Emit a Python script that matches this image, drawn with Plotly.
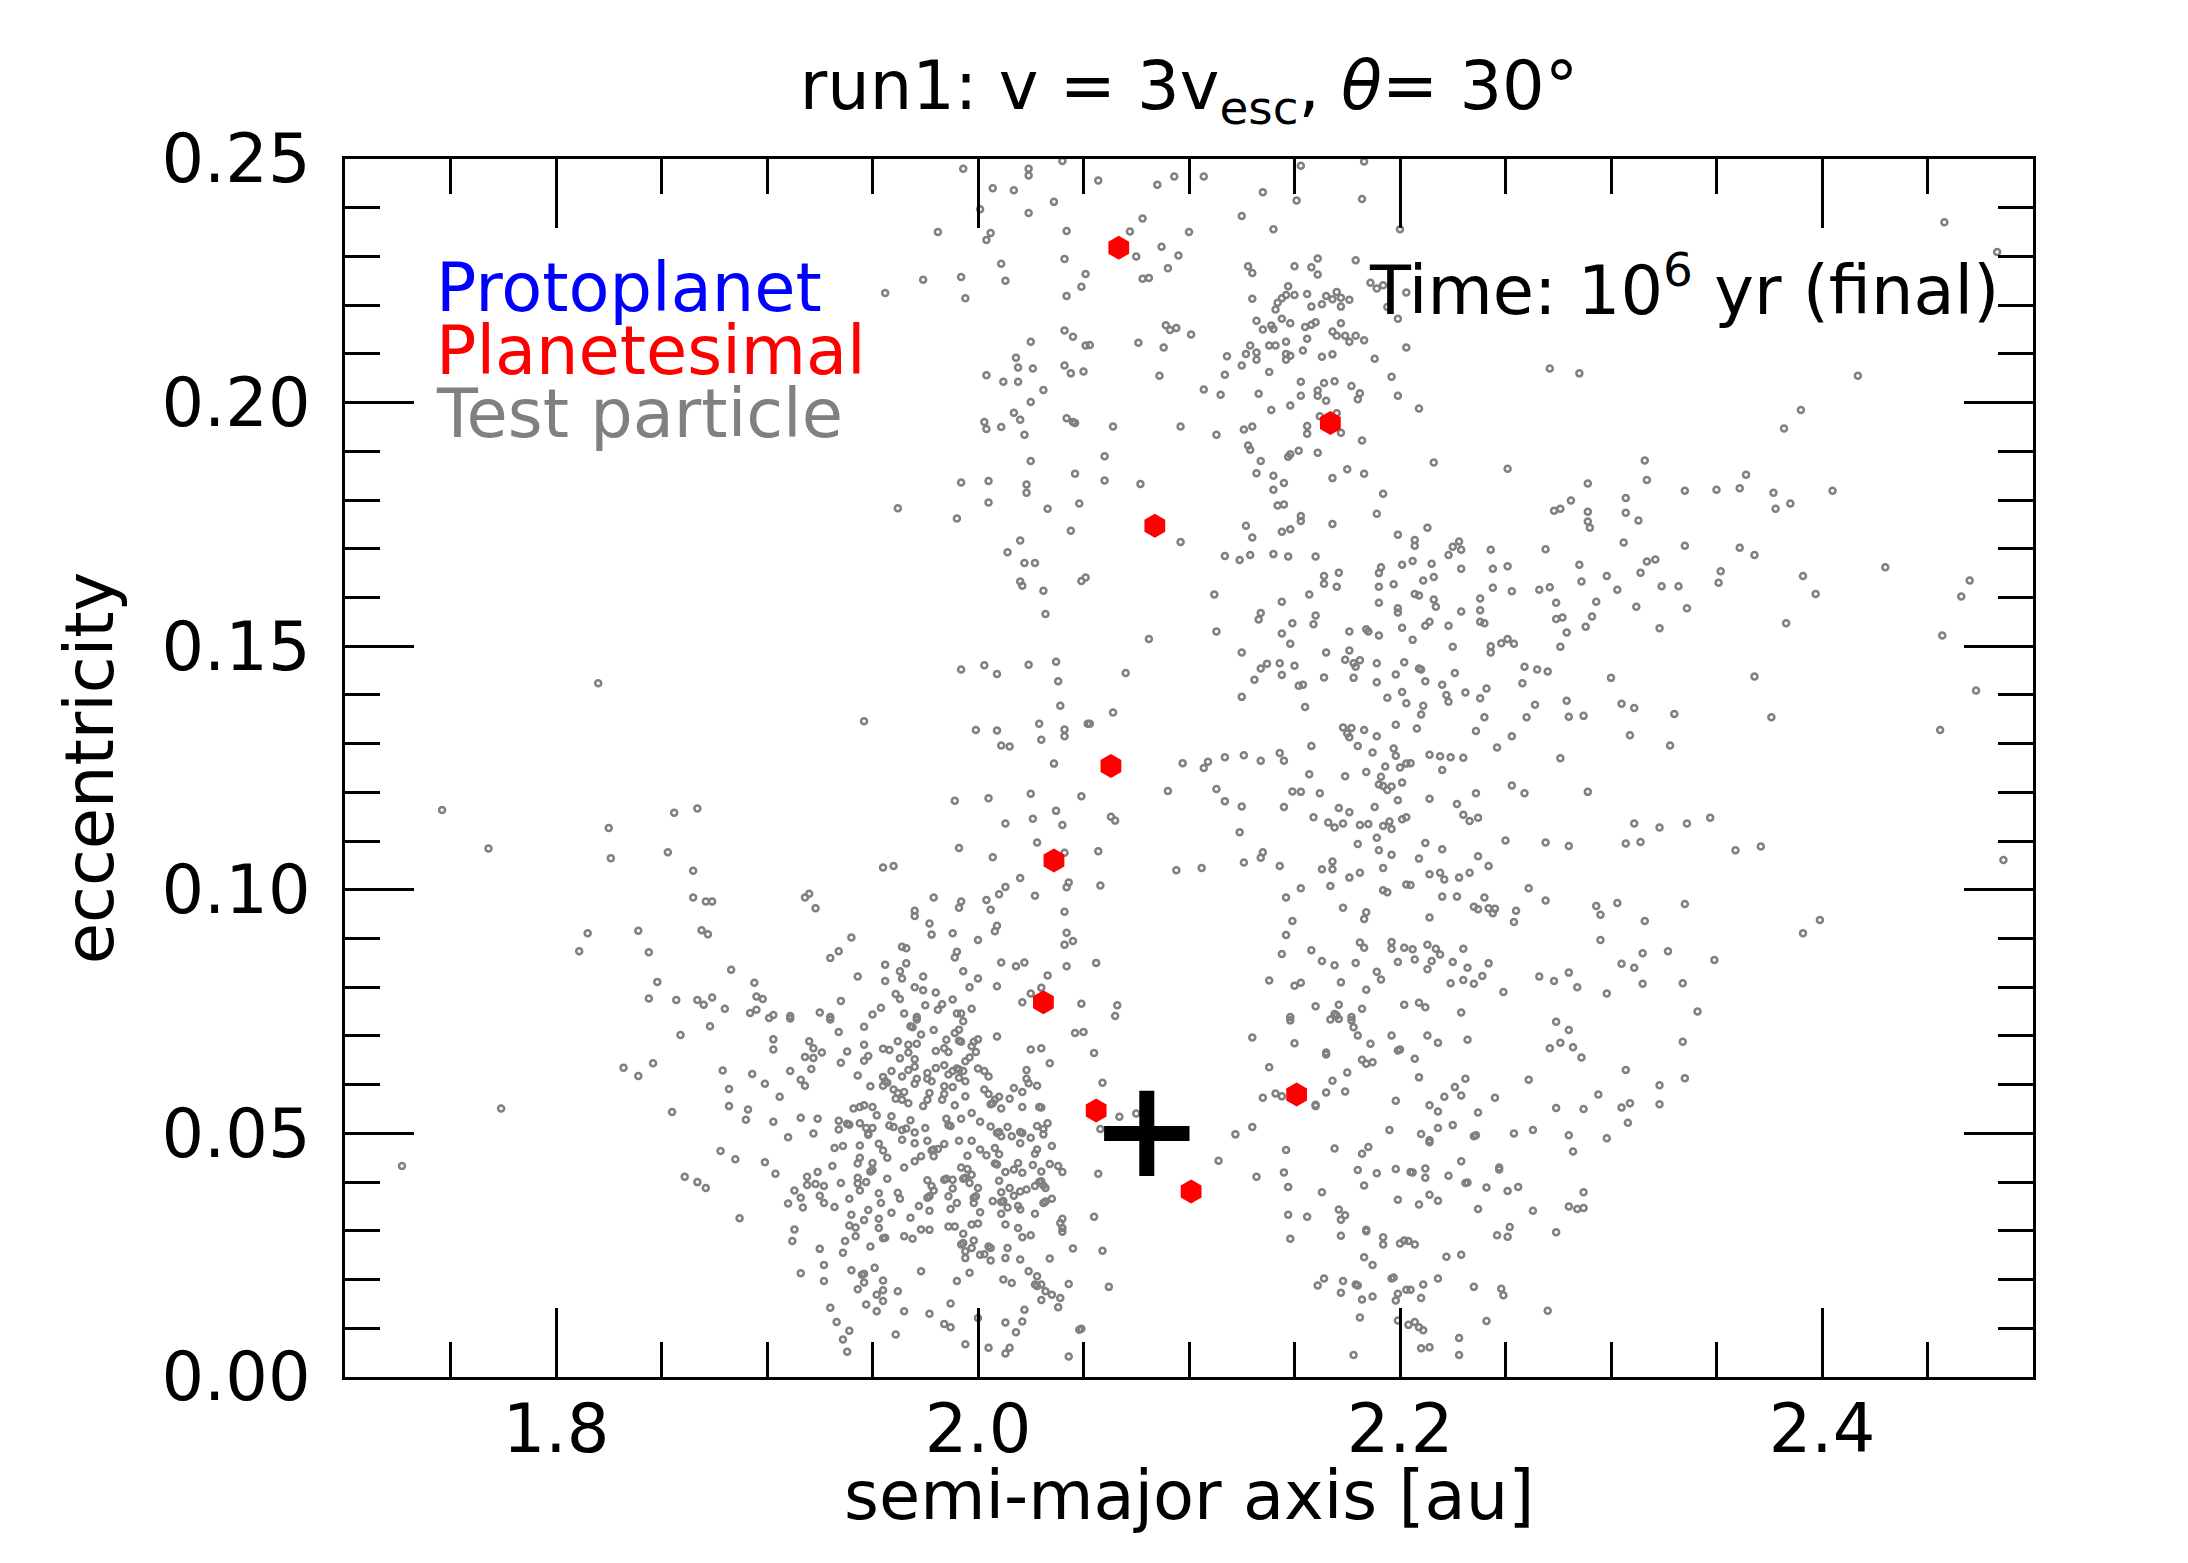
import plotly.graph_objects as go

# ---------------- data (semi-major axis [au], eccentricity) ----------------
# test particles, grouped by region of the plot
tp_upper_left = [
    (1.993,0.248),(2.024,0.248),(2.024,0.2466),(2.007,0.244),(2.017,0.2436),(2.036,0.2412),(2.001,0.2397),
    (2.024,0.2389),(1.981,0.235),(2.006,0.2348),(2.004,0.2334),(2.042,0.2352),(2.041,0.2295),(2.011,0.2285),
    (2.013,0.225),(1.992,0.2258),(1.974,0.2252),(1.956,0.2225),(1.994,0.2214),(2.051,0.2264),(2.049,0.2238),
    (2.042,0.2219),(2.041,0.2148),(2.045,0.2135),(2.051,0.2117),(2.025,0.2125),(2.018,0.2092),(2.019,0.2072),
    (2.026,0.207),(2.041,0.2076),(2.044,0.206),(2.05,0.2064),(2.004,0.2056),(2.012,0.2043),(2.019,0.2043),
    (2.031,0.2026),(2.025,0.2001),(2.017,0.1979),(2.020,0.1965),(2.003,0.196),(2.004,0.1946),(2.011,0.195),
    (2.022,0.1934),(2.042,0.1968),(2.045,0.196),(2.046,0.1958),(2.025,0.188),(2.046,0.1854),(1.992,0.1836),
    (2.005,0.1839),(2.023,0.1832),(2.023,0.1815),(2.005,0.1795),(1.962,0.1783),(1.990,0.1762),(2.033,0.1782),
    (2.048,0.1793),(2.044,0.1737),(2.020,0.1717),(2.014,0.1693),(2.022,0.1671),(2.027,0.1671),(2.020,0.1633),
    (2.021,0.1624),(2.031,0.1614),(2.032,0.1566),(2.049,0.1634),(2.051,0.1641),(2.040,0.2496),
]
tp_upper_mid = [
    (2.057,0.2456),(2.085,0.2447),(2.093,0.2464),(2.107,0.2464),(2.135,0.2432),(2.153,0.2486),(2.151,0.2415),
    (2.183,0.2495),(2.182,0.2418),(2.200,0.2356),(2.078,0.2378),(2.072,0.2351),(2.100,0.235),(2.125,0.2383),
    (2.140,0.2356),(2.087,0.232),(2.075,0.2300),(2.095,0.2302),(2.090,0.2276),(2.078,0.2254),(2.081,0.2256),
    (2.128,0.2280),(2.130,0.2266),(2.150,0.2280),(2.161,0.2296),(2.158,0.2278),(2.161,0.2263),(2.179,0.2292),
    (2.186,0.2246),(2.189,0.2234),(2.192,0.2241),(2.194,0.2196),(2.199,0.2172),(2.203,0.2226),(2.130,0.2213),
    (2.147,0.2239),(2.142,0.2205),(2.144,0.2214),(2.146,0.2221),(2.150,0.2221),(2.141,0.2191),(2.156,0.2223),
    (2.165,0.2219),(2.170,0.2227),(2.168,0.2212),(2.172,0.2215),(2.176,0.2211),(2.163,0.2202),(2.158,0.2197),
    (2.172,0.2197),(2.132,0.2168),(2.144,0.2172),(2.148,0.2163),(2.139,0.2158),(2.140,0.2151),(2.135,0.215),
    (2.155,0.2155),(2.158,0.216),(2.160,0.2165),(2.172,0.2163),(2.168,0.2146),(2.170,0.2137),(2.174,0.2137),
    (2.176,0.2125),(2.179,0.2137),(2.183,0.2128),(2.156,0.2131),(2.089,0.2159),(2.091,0.2149),(2.094,0.2153),
    (2.101,0.2140),(2.076,0.2123),(2.088,0.2113),(2.053,0.2118),(2.129,0.2117),(2.138,0.2117),(2.141,0.2117),
    (2.146,0.2125),(2.118,0.2095),(2.127,0.2100),(2.132,0.2103),(2.132,0.2088),(2.125,0.2076),(2.146,0.2100),
    (2.148,0.2096),(2.146,0.2088),(2.154,0.2107),(2.163,0.2094),(2.168,0.2099),(2.188,0.2090),(2.203,0.2113),
    (2.086,0.2055),(2.117,0.2057),(2.138,0.2063),(2.107,0.2027),(2.115,0.2016),(2.133,0.2018),(2.153,0.2043),
    (2.164,0.2040),(2.169,0.2044),(2.153,0.2014),(2.161,0.2025),(2.161,0.2014),(2.165,0.2004),(2.177,0.2034),
    (2.181,0.2019),(2.180,0.2007),(2.196,0.2053),(2.199,0.2014),(2.139,0.1985),(2.148,0.1994),(2.162,0.1972),
    (2.170,0.1978),(2.156,0.1952),(2.156,0.1936),(2.172,0.1938),(2.182,0.1922),(2.064,0.1951),(2.096,0.1951),
    (2.113,0.1934),(2.126,0.1945),(2.130,0.1951),(2.060,0.1890),(2.128,0.1912),(2.129,0.1903),(2.134,0.1880),
    (2.132,0.1855),(2.147,0.1889),(2.148,0.1894),(2.152,0.1901),(2.161,0.1897),(2.060,0.1840),(2.077,0.1833),
    (2.140,0.1850),(2.145,0.1835),(2.140,0.1821),(2.168,0.1845),(2.175,0.1863),(2.183,0.1854),(2.192,0.1813),
    (2.142,0.1789),(2.145,0.1791),(2.153,0.1767),(2.153,0.1757),(2.189,0.1772),(2.168,0.1751),(2.199,0.1729),
    (2.127,0.1747),(2.130,0.1723),(2.096,0.1714),(2.144,0.1735),(2.148,0.1740),(2.117,0.1685),(2.124,0.1677),
    (2.129,0.1687),(2.140,0.1689),(2.147,0.1684),(2.160,0.1684),(2.164,0.1644),(2.164,0.1628),(2.170,0.1622),
    (2.171,0.1651),(2.191,0.1662),(2.190,0.1650),(2.190,0.1622),(2.197,0.1627),(2.201,0.1667),(2.190,0.1589),
    (2.199,0.1578),(2.199,0.1569),(2.201,0.1538),(2.112,0.1606),(2.144,0.1591),(2.157,0.1606),(2.134,0.1568),
    (2.133,0.1555),(2.160,0.1563),(2.159,0.1545),(2.149,0.1547),(2.113,0.1530),(2.144,0.1526),(2.148,0.1505),
    (2.081,0.1515),(2.176,0.1530),(2.184,0.1535),(2.185,0.1530),(2.190,0.1522),
]
tp_upper_right = [
    (2.458,0.237),(2.483,0.2309),(2.271,0.2070),(2.285,0.2060),(2.417,0.2055),(2.209,0.1988),(2.390,0.1985),
    (2.382,0.1947),(2.216,0.1877),(2.251,0.1864),(2.316,0.1881),(2.317,0.1841),(2.364,0.1852),(2.289,0.1834),
    (2.335,0.1819),(2.350,0.1821),(2.361,0.1824),(2.377,0.1815),(2.405,0.1819),(2.307,0.1804),(2.281,0.1799),
    (2.273,0.1778),(2.276,0.1782),(2.289,0.1776),(2.307,0.1774),(2.313,0.1758),(2.289,0.1756),(2.290,0.1743),
    (2.378,0.1782),(2.385,0.1793),(2.213,0.1743),(2.207,0.1718),(2.207,0.1706),(2.225,0.1704),(2.228,0.1715),
    (2.229,0.1698),(2.223,0.1687),(2.243,0.1698),(2.269,0.1699),(2.306,0.1713),(2.335,0.1706),(2.361,0.1702),
    (2.368,0.1687),(2.206,0.1675),(2.215,0.1669),(2.229,0.1659),(2.244,0.1659),(2.251,0.1664),(2.285,0.1667),
    (2.317,0.1674),(2.321,0.1678),(2.314,0.1651),(2.352,0.1654),(2.430,0.1662),(2.211,0.1635),(2.216,0.1642),
    (2.286,0.1633),(2.298,0.1644),(2.351,0.1630),(2.391,0.1644),(2.207,0.1607),(2.209,0.1604),(2.216,0.1596),
    (2.217,0.1581),(2.244,0.1620),(2.253,0.1613),(2.266,0.1616),(2.271,0.1621),(2.303,0.1616),(2.324,0.1623),
    (2.332,0.1623),(2.397,0.1607),(2.470,0.1635),(2.466,0.1602),(2.238,0.1598),(2.238,0.1574),(2.229,0.1571),
    (2.274,0.1589),(2.293,0.1591),(2.312,0.1581),(2.336,0.1578),(2.238,0.1550),(2.240,0.1547),(2.223,0.1542),
    (2.212,0.1542),(2.214,0.1550),(2.274,0.1556),(2.277,0.1559),(2.291,0.1561),(2.288,0.1540),(2.279,0.1528),
    (2.323,0.1537),(2.383,0.1547),(2.457,0.1522),(2.206,0.1513),(2.251,0.1515),(2.254,0.1505),(2.248,0.1506),
    (2.243,0.1500),(2.225,0.1499),(2.276,0.1499),
]
tp_middle_left = [
    (1.992,0.1452),(2.003,0.1461),(2.009,0.1443),(2.024,0.1462),(2.037,0.1468),(2.038,0.1428),(2.039,0.1378),
    (1.946,0.1346),(1.999,0.1328),(2.009,0.1327),(2.029,0.1341),(2.041,0.1329),(2.041,0.1315),(2.030,0.1308),
    (2.052,0.1341),(2.011,0.1296),(2.015,0.1294),(2.036,0.1259),(1.989,0.1183),(2.005,0.1188),(2.025,0.1197),
    (2.049,0.1192),(2.037,0.1162),(2.013,0.1136),(2.026,0.1146),(2.040,0.1133),(1.991,0.1086),(2.007,0.1067),
    (2.028,0.1097),(2.041,0.1076),(1.955,0.1046),(1.960,0.1049),(2.020,0.1024),(2.043,0.1015),(2.042,0.1005),
    (1.918,0.0984),(1.920,0.0992),(1.923,0.0962),(1.979,0.0984),(1.991,0.0963),(1.992,0.0976),(2.004,0.0979),
    (2.006,0.0959),(2.010,0.0991),(2.013,0.1006),(2.027,0.0988),(2.041,0.0955),(1.970,0.0957),(1.970,0.0946),
    (1.977,0.0931),(1.978,0.0908),(1.988,0.0911),(2.000,0.0897),(2.008,0.0915),(2.009,0.0926),(2.042,0.0912),
    (2.041,0.0887),(2.045,0.0895),(1.940,0.0902),(1.930,0.0860),(1.934,0.0874),(1.964,0.0883),(1.966,0.0880),
    (1.990,0.0873),(1.989,0.0861),(1.956,0.0846),(1.966,0.0849),(1.963,0.0833),(1.964,0.0818),(1.943,0.0822),
    (1.956,0.0813),(1.974,0.0822),(1.993,0.0833),(2.000,0.0818),(2.011,0.0851),(2.018,0.0843),(2.022,0.0851),
    (2.042,0.0843),(2.033,0.0824),(1.996,0.0800),(2.009,0.0802),(2.030,0.0799),(2.025,0.0787),(2.021,0.0769),
    (2.049,0.0766),(1.970,0.0800),(1.974,0.0794),(1.980,0.0789),(1.961,0.0786),(1.963,0.0776),(1.935,0.0772),
    (1.988,0.0775),(1.983,0.0765),(1.975,0.0763),(1.954,0.0758),(1.997,0.0756),(1.981,0.0754),(1.925,0.0748),
    (1.950,0.0744),(1.965,0.0746),(1.990,0.0746),(1.992,0.0746),(1.903,0.0743),(1.911,0.0741),(1.930,0.0739),
    (1.971,0.0739),
]
tp_middle_mid = [
    (2.125,0.1487),(2.165,0.1487),(2.176,0.1491),(2.070,0.1445),(2.064,0.1364),(2.053,0.1341),(2.134,0.1454),
    (2.137,0.1464),(2.143,0.1465),(2.150,0.1460),(2.144,0.1441),(2.131,0.1431),(2.152,0.1419),(2.154,0.1421),
    (2.164,0.1436),(2.174,0.1472),(2.178,0.1465),(2.181,0.1471),(2.179,0.1458),(2.178,0.1435),(2.189,0.1465),
    (2.189,0.1426),(2.198,0.1442),(2.202,0.1467),(2.201,0.1406),(2.203,0.1383),(2.194,0.1394),(2.125,0.1396),
    (2.155,0.1375),(2.173,0.1333),(2.177,0.1332),(2.175,0.1321),(2.176,0.1313),(2.183,0.1328),(2.189,0.1315),
    (2.198,0.1339),(2.158,0.1295),(2.180,0.1295),(2.187,0.1282),(2.197,0.1290),(2.198,0.1275),(2.097,0.1260),
    (2.109,0.1263),(2.107,0.1250),(2.117,0.1272),(2.126,0.1276),(2.134,0.1265),(2.143,0.1281),(2.145,0.1265),
    (2.157,0.1237),(2.174,0.1233),(2.184,0.1242),(2.193,0.1253),(2.200,0.1251),(2.203,0.1259),(2.191,0.1232),
    (2.192,0.1213),(2.194,0.1205),(2.196,0.1212),(2.190,0.1216),(2.201,0.1220),(2.199,0.1184),(2.090,0.1203),
    (2.113,0.1207),(2.117,0.1182),(2.125,0.1171),(2.149,0.1202),(2.153,0.1201),(2.162,0.1198),(2.145,0.1170),
    (2.159,0.1149),(2.171,0.1168),(2.176,0.1159),(2.188,0.1170),(2.063,0.1150),(2.065,0.1142),(2.166,0.1138),
    (2.169,0.1128),(2.173,0.1136),(2.181,0.1133),(2.185,0.1135),(2.192,0.1131),(2.195,0.1140),(2.196,0.1125),
    (2.201,0.1145),(2.203,0.1149),(2.124,0.1118),(2.189,0.1107),(2.180,0.1094),(2.190,0.1081),(2.196,0.1072),
    (2.057,0.1079),(2.094,0.1040),(2.106,0.1045),(2.126,0.1056),(2.134,0.1066),(2.135,0.1077),(2.143,0.1049),
    (2.163,0.1042),(2.168,0.1058),(2.168,0.1042),(2.176,0.1025),(2.181,0.1035),(2.192,0.1045),(2.058,0.1009),
    (2.153,0.1003),(2.167,0.1008),(2.192,0.0999),(2.194,0.0995),(2.203,0.1011),(2.146,0.0984),(2.173,0.0963),
    (2.184,0.0954),(2.183,0.0940),(2.149,0.0936),(2.146,0.0907),(2.144,0.0868),(2.158,0.0876),(2.163,0.0854),
    (2.169,0.0845),(2.179,0.0850),(2.181,0.0892),(2.183,0.0881),(2.196,0.0893),(2.196,0.0879),(2.202,0.0881),
    (2.199,0.0852),(2.189,0.0832),(2.191,0.0816),(2.184,0.0795),(2.172,0.0810),(2.150,0.0803),(2.153,0.0809),
    (2.138,0.0814),(2.056,0.0850),(2.066,0.0763),(2.065,0.0741),(2.160,0.0761),(2.171,0.0764),(2.182,0.0756),
    (2.202,0.0764),(2.148,0.0739),(2.169,0.0745),(2.170,0.0742),(2.177,0.0739),
]
tp_middle_right = [
    (2.243,0.1487),(2.209,0.1454),(2.210,0.1452),(2.226,0.1445),(2.212,0.1428),(2.220,0.1421),(2.259,0.1458),
    (2.265,0.1452),(2.270,0.1448),(2.258,0.1424),(2.300,0.1435),(2.222,0.1400),(2.223,0.1386),(2.231,0.1405),
    (2.241,0.1413),(2.238,0.1393),(2.211,0.1378),(2.210,0.1360),(2.264,0.1380),(2.279,0.1388),(2.305,0.1382),
    (2.311,0.1373),(2.330,0.1361),(2.240,0.1354),(2.260,0.1354),(2.280,0.1355),(2.287,0.1357),(2.208,0.1331),
    (2.236,0.1326),(2.253,0.1315),(2.246,0.1292),(2.309,0.1317),(2.328,0.1296),(2.214,0.1277),(2.219,0.1274),
    (2.224,0.1272),(2.230,0.1271),(2.205,0.1260),(2.220,0.1246),(2.276,0.1270),(2.253,0.1214),(2.259,0.1198),
    (2.236,0.1198),(2.289,0.1201),(2.214,0.1187),(2.227,0.1176),(2.230,0.1154),(2.233,0.1141),(2.237,0.1148),
    (2.311,0.1136),(2.323,0.1128),(2.336,0.1136),(2.347,0.1148),(2.307,0.1095),(2.314,0.1098),(2.212,0.1096),
    (2.220,0.1083),(2.250,0.1101),(2.269,0.1097),(2.280,0.1090),(2.209,0.1064),(2.237,0.1069),(2.242,0.1049),
    (2.214,0.1032),(2.219,0.1035),(2.221,0.1021),(2.228,0.1025),(2.233,0.1035),(2.205,0.1010),(2.220,0.0986),
    (2.227,0.0986),(2.240,0.0984),(2.235,0.0965),(2.237,0.0960),(2.242,0.0962),(2.245,0.0961),(2.244,0.0952),
    (2.261,0.1003),(2.269,0.0978),(2.255,0.0957),(2.254,0.0934),(2.214,0.0943),(2.293,0.0967),(2.303,0.0973),
    (2.295,0.0949),(2.316,0.0936),(2.335,0.0971),(2.295,0.0897),(2.315,0.0870),(2.327,0.0874),(2.349,0.0856),
    (2.305,0.0848),(2.311,0.0840),(2.315,0.0807),(2.334,0.0808),(2.341,0.0750),(2.206,0.0878),(2.207,0.0857),
    (2.213,0.0887),(2.217,0.0879),(2.219,0.0867),(2.215,0.0854),(2.213,0.0837),(2.230,0.0879),(2.225,0.0852),
    (2.232,0.0840),(2.242,0.0849),(2.224,0.0808),(2.230,0.0815),(2.235,0.0807),(2.239,0.0823),(2.249,0.0790),
    (2.266,0.0822),(2.273,0.0813),(2.280,0.0830),(2.284,0.0800),(2.298,0.0787),(2.209,0.0768),(2.212,0.0759),
    (2.229,0.0748),
]
tp_lower_left = [
    (1.911,0.0736),(1.930,0.0734),(1.946,0.0719),(1.934,0.0708),(1.968,0.0720),(1.969,0.0718),(1.971,0.0734),
    (1.979,0.0712),(1.993,0.0730),(1.991,0.0713),(1.989,0.0706),(2.009,0.0699),(2.046,0.0706),(2.050,0.0708),
    (1.903,0.0693),(1.903,0.0672),(1.920,0.0689),(1.922,0.0675),(1.926,0.0666),(1.918,0.0657),(1.922,0.0655),
    (1.938,0.0668),(1.946,0.0682),(1.948,0.0659),(1.946,0.0649),(1.935,0.0645),(1.955,0.0674),(1.958,0.0671),
    (1.962,0.0689),(1.967,0.0682),(1.971,0.0684),(1.973,0.0703),(1.967,0.0666),(1.985,0.0692),(1.984,0.0675),
    (1.986,0.0667),(1.980,0.0669),(1.991,0.0690),(1.992,0.0688),(1.998,0.0688),(2.000,0.0693),(1.997,0.0679),
    (1.999,0.0667),(1.996,0.0656),(1.994,0.0648),(2.025,0.0672),(2.030,0.0675),(2.034,0.0644),(1.963,0.0654),
    (1.970,0.0652),(1.911,0.0628),(1.921,0.0632),(1.916,0.0610),(1.918,0.0598),(1.906,0.0575),(1.943,0.0619),
    (1.949,0.0597),(1.955,0.0616),(1.955,0.0598),(1.959,0.0628),(1.957,0.0604),(1.956,0.0607),(1.960,0.0590),
    (1.962,0.0583),(1.965,0.0585),(1.961,0.0571),(1.964,0.0569),(1.967,0.0562),(1.964,0.0617),(1.967,0.0630),
    (1.970,0.0637),(1.970,0.0602),(1.971,0.0612),(1.976,0.0624),(1.976,0.0612),(1.978,0.0607),(1.980,0.0634),
    (1.984,0.0640),(1.988,0.0628),(1.991,0.0631),(1.990,0.0633),(1.993,0.0628),(1.991,0.0614),(1.994,0.0607),
    (1.986,0.0621),(2.000,0.0633),(2.003,0.0628),(2.005,0.0617),(2.003,0.0590),(2.005,0.0581),(1.984,0.0597),
    (1.988,0.0595),(1.984,0.0581),(1.983,0.0569),(1.977,0.0583),(1.976,0.0569),(1.974,0.0556),(1.989,0.0558),
    (1.994,0.0576),(2.010,0.0575),(2.008,0.0569),(2.006,0.0560),(2.007,0.0562),(2.015,0.0571),(2.017,0.0593),
    (2.021,0.0585),(2.023,0.0630),(2.023,0.0612),(2.024,0.0603),(2.028,0.0598),(2.011,0.0551),(2.021,0.0554),
    (2.029,0.0554),(2.030,0.0553),(1.941,0.0551),(1.944,0.0554),(1.946,0.0558),(1.950,0.0554),(1.952,0.0537),
    (1.916,0.0532),(1.924,0.0530),(1.903,0.0524),(1.910,0.0492),(1.922,0.0500),(1.934,0.0526),(1.934,0.0508),
    (1.939,0.0518),(1.938,0.0520),(1.944,0.0521),(1.947,0.0511),(1.948,0.0497),(1.948,0.0500),(1.950,0.0511),
    (1.959,0.0535),(1.958,0.0516),(1.960,0.0513),(1.964,0.0507),(1.966,0.0510),(1.968,0.0527),(1.970,0.0502),
    (1.964,0.0487),(1.970,0.0480),(1.975,0.0511),(1.985,0.0530),(1.986,0.0517),(1.987,0.0515),(1.992,0.0530),
    (1.997,0.0542),(2.001,0.0524),(2.006,0.0514),(2.009,0.0501),(2.010,0.0503),(2.014,0.0513),(2.016,0.0494),
    (2.021,0.0501),(2.020,0.0503),(2.020,0.0480),(2.025,0.0491),(2.028,0.0515),(2.031,0.0509),(2.033,0.0521),
    (2.031,0.0498),(2.011,0.0494),(1.991,0.0485),(1.997,0.0485),(1.976,0.0485),(1.978,0.0465),(1.979,0.0467),
    (1.981,0.0468),(1.984,0.0478),(1.979,0.0453),(1.973,0.0453),(1.970,0.0443),(1.965,0.0430),(1.932,0.0470),
    (1.936,0.0474),(1.944,0.0475),(1.953,0.0479),(1.955,0.0465),(1.957,0.0450),(1.931,0.0433),(1.944,0.0450),
    (1.943,0.0438),(1.950,0.0439),(1.949,0.0422),(1.950,0.0425),(1.904,0.0417),(1.919,0.0411),(1.924,0.0421),
    (1.919,0.0394),(1.923,0.0396),(1.927,0.0392),(1.913,0.0383),(1.925,0.0372),(1.916,0.0368),(1.910,0.0356),
    (1.917,0.0348),(1.927,0.0357),(1.932,0.0349),(1.935,0.0398),(1.943,0.0409),(1.943,0.0397),(1.947,0.0400),
    (1.944,0.0383),(1.939,0.0366),(1.957,0.0407),(1.953,0.0377),(1.954,0.0357),(1.962,0.0378),(1.963,0.0366),
    (1.948,0.0343),(1.959,0.0337),(1.972,0.0351),(1.976,0.0404),(1.978,0.0392),(1.979,0.0383),(1.976,0.0368),
    (1.977,0.0371),(1.977,0.0341),(1.984,0.0405),(1.985,0.0407),(1.988,0.0405),(1.988,0.0387),(1.986,0.0371),
    (1.990,0.0357),(1.987,0.0345),(1.992,0.0430),(1.995,0.0427),(1.997,0.0415),(1.993,0.0407),(1.994,0.0409),
    (1.996,0.0398),(2.000,0.0388),(1.998,0.0368),(1.999,0.0371),(1.998,0.0357),(2.001,0.0338),(1.995,0.0454),
    (2.001,0.0467),(2.004,0.0455),(2.008,0.0470),(2.010,0.0457),(2.008,0.0438),(2.009,0.0436),(2.013,0.0421),
    (2.017,0.0426),(2.019,0.0439),(2.021,0.0419),(2.026,0.0435),(2.028,0.0467),(2.027,0.0458),(2.030,0.0422),
    (2.034,0.0437),(2.035,0.0474),(2.038,0.0433),(2.040,0.0421),(2.010,0.0403),(2.011,0.0379),(2.015,0.0388),
    (2.017,0.0372),(2.020,0.0381),(2.023,0.0385),(2.027,0.0392),(2.029,0.0400),(2.030,0.0402),(2.031,0.0393),
    (2.032,0.0388),(2.035,0.0366),(2.031,0.0357),(2.032,0.0360),(2.007,0.0361),(2.011,0.0359),(2.012,0.0361),
    (2.014,0.0348),(2.019,0.0351),(2.020,0.0344),(2.011,0.0335),(2.027,0.0335),(1.940,0.0333),(1.946,0.0322),
    (1.953,0.0325),(1.953,0.0306),(1.955,0.0285),(1.956,0.0286),(1.939,0.0311),(1.942,0.0307),(1.942,0.0289),
    (1.937,0.0279),(1.936,0.0255),(1.913,0.0303),(1.912,0.0279),(1.925,0.0263),(1.949,0.0268),(1.968,0.0327),
    (1.965,0.0289),(1.969,0.0284),(1.973,0.0303),(1.977,0.0302),(1.986,0.0309),(1.989,0.0309),(1.997,0.0313),
    (2.000,0.0315),(1.993,0.0294),(1.992,0.0272),(1.993,0.0275),(1.994,0.0258),(1.997,0.0265),(1.998,0.0280),
    (1.994,0.0244),(2.001,0.0251),(2.003,0.0252),(2.006,0.0265),(2.005,0.0268),(2.006,0.0239),(2.013,0.0313),
    (2.019,0.0306),(2.021,0.0287),(2.025,0.0291),(2.014,0.0265),(2.013,0.0244),(2.020,0.0241),(2.034,0.0243),
    (2.039,0.0316),(2.040,0.0325),(2.040,0.0306),(2.040,0.0298),(2.045,0.0264),(1.927,0.0230),(1.916,0.0213),
    (1.927,0.0197),(1.940,0.0219),(1.945,0.0210),(1.946,0.0212),(1.946,0.0194),(1.951,0.0224),(1.955,0.0198),
    (1.955,0.0178),(1.952,0.0169),(1.955,0.0156),(1.943,0.0180),(1.962,0.0176),(1.973,0.0217),(1.990,0.0197),
    (1.996,0.0214),(2.012,0.0200),(2.016,0.0193),(2.024,0.0217),(2.028,0.0207),(2.027,0.0190),(2.028,0.0187),
    (2.030,0.0190),(2.032,0.0176),(2.035,0.0169),(2.039,0.0162),(2.030,0.0158),(2.038,0.0143),(2.043,0.0191),
    (1.930,0.0142),(1.947,0.0149),(1.952,0.0135),(1.965,0.0135),(1.977,0.0130),(1.987,0.0151),(1.933,0.0113),
    (1.939,0.0095),(1.936,0.0077),(1.938,0.0052),(1.961,0.0087),(1.984,0.0109),(1.987,0.0102),(2.000,0.0121),
    (2.013,0.0112),(2.022,0.0138),(2.021,0.0114),(2.018,0.0092),(1.994,0.0067),(2.005,0.0060),(2.013,0.0048),
    (2.015,0.0060),(2.043,0.0042),(2.048,0.0097),(2.049,0.0099),
]
tp_lower_mid = [
    (2.148,0.0732),(2.167,0.0734),(2.171,0.0735),(2.177,0.0732),(2.178,0.0718),(2.180,0.0701),(2.186,0.0684),
    (2.196,0.0701),(2.130,0.0697),(2.150,0.0685),(2.165,0.0662),(2.165,0.0666),(2.199,0.0670),(2.200,0.0672),
    (2.055,0.0665),(2.138,0.0636),(2.182,0.0651),(2.184,0.0643),(2.187,0.0646),(2.175,0.0625),(2.168,0.0608),
    (2.059,0.0604),(2.075,0.0541),(2.067,0.0534),(2.058,0.0509),(2.135,0.0573),(2.141,0.0582),(2.144,0.0576),
    (2.160,0.0556),(2.160,0.0559),(2.165,0.0584),(2.174,0.0586),(2.198,0.0567),(2.195,0.0507),(2.130,0.0513),
    (2.122,0.0498),(2.114,0.0444),(2.057,0.0417),(2.055,0.0329),(2.059,0.0259),(2.062,0.0185),(2.132,0.0411),
    (2.146,0.0466),(2.169,0.0469),(2.182,0.0458),(2.185,0.0472),(2.145,0.0420),(2.147,0.0390),(2.163,0.0379),
    (2.180,0.0425),(2.189,0.0418),(2.198,0.0427),(2.183,0.0393),(2.199,0.0364),(2.147,0.0333),(2.156,0.0329),
    (2.171,0.0344),(2.174,0.0332),(2.172,0.0323),(2.148,0.0284),(2.172,0.0290),(2.184,0.0299),(2.184,0.0302),
    (2.192,0.0287),(2.192,0.0272),(2.200,0.0274),(2.202,0.0280),(2.183,0.0246),(2.187,0.0230),(2.161,0.0188),
    (2.164,0.0202),(2.173,0.0197),(2.172,0.0173),(2.179,0.0190),(2.180,0.0188),(2.182,0.0159),(2.187,0.0165),
    (2.196,0.0202),(2.197,0.0204),(2.199,0.0171),(2.198,0.0157),(2.203,0.0179),(2.181,0.0122),(2.199,0.0116),
    (2.204,0.0107),(2.178,0.0045),
]
tp_lower_right = [
    (2.274,0.0729),(2.280,0.0712),(2.213,0.0701),(2.218,0.0686),(2.232,0.0692),(2.271,0.0675),(2.276,0.0686),
    (2.282,0.0677),(2.286,0.0656),(2.334,0.0688),(2.207,0.0653),(2.209,0.0615),(2.261,0.0610),(2.307,0.0630),
    (2.335,0.0613),(2.323,0.0599),(2.231,0.0612),(2.226,0.0595),(2.221,0.0575),(2.229,0.0578),(2.245,0.0573),
    (2.214,0.0558),(2.218,0.0545),(2.237,0.0543),(2.294,0.0580),(2.274,0.0552),(2.287,0.0550),(2.305,0.0553),
    (2.309,0.0562),(2.323,0.0560),(2.308,0.0522),(2.210,0.0499),(2.214,0.0482),(2.214,0.0486),(2.218,0.0511),
    (2.225,0.0517),(2.235,0.0494),(2.236,0.0496),(2.254,0.0500),(2.263,0.0507),(2.280,0.0496),(2.298,0.0490),
    (2.282,0.0463),(2.229,0.0443),(2.206,0.0420),(2.205,0.0421),(2.212,0.0428),(2.212,0.0409),(2.223,0.0413),
    (2.231,0.0398),(2.232,0.0399),(2.247,0.0426),(2.247,0.0430),(2.241,0.0389),(2.251,0.0382),(2.256,0.0390),
    (2.287,0.0379),(2.214,0.0374),(2.218,0.0362),(2.209,0.0354),(2.237,0.0345),(2.263,0.0341),(2.280,0.0350),
    (2.284,0.0345),(2.287,0.0347),(2.252,0.0308),(2.246,0.0291),(2.251,0.0288),(2.274,0.0297),(2.204,0.0279),
    (2.207,0.0272),(2.222,0.0247),(2.229,0.0251),(2.218,0.0202),(2.211,0.0190),(2.205,0.0179),(2.210,0.0162),
    (2.235,0.0185),(2.248,0.0181),(2.249,0.0168),(2.270,0.0136),(2.241,0.0115),(2.207,0.0113),(2.209,0.0102),
    (2.211,0.0096),(2.228,0.0080),(2.210,0.0059),(2.214,0.0061),(2.228,0.0045),
]
tp_far_left = [
    (1.820,0.1424),(1.746,0.1164),(1.768,0.1085),(1.774,0.0551),(1.727,0.0433),(1.856,0.1158),(1.867,0.1167),
    (1.825,0.1127),(1.826,0.1065),(1.853,0.1077),(1.865,0.1039),(1.865,0.0984),(1.871,0.0976),(1.874,0.0976),
    (1.815,0.0911),(1.811,0.0874),(1.839,0.0916),(1.844,0.0872),(1.869,0.0917),(1.872,0.0909),(1.883,0.0836),
    (1.894,0.0809),(1.848,0.0811),(1.844,0.0777),(1.857,0.0774),(1.867,0.0774),(1.870,0.0764),(1.874,0.0779),
    (1.880,0.0756),(1.895,0.0781),(1.898,0.0776),(1.892,0.0747),(1.895,0.0754),(1.901,0.0737),(1.873,0.0720),
    (1.859,0.0702),(1.832,0.0635),(1.839,0.0618),(1.846,0.0644),(1.879,0.0629),(1.893,0.0622),(1.899,0.0602),
    (1.882,0.0591),(1.855,0.0544),(1.882,0.0556),(1.891,0.0549),(1.890,0.0528),(1.878,0.0464),(1.885,0.0447),
    (1.899,0.0441),(1.861,0.0411),(1.867,0.0400),(1.871,0.0388),(1.887,0.0326),
]
tp_far_right = [
    (2.368,0.1438),(2.376,0.1354),(2.473,0.1409),(2.456,0.1328),(2.359,0.1081),(2.371,0.1089),(2.486,0.1061),
    (2.399,0.0938),(2.391,0.0911),
]

# planetesimals
plan_a = [2.0667, 2.167, 2.0838, 2.063, 2.036, 2.031, 2.056, 2.151, 2.101]
plan_e = [0.2318, 0.1958, 0.1747, 0.1254, 0.106, 0.0769, 0.0547, 0.058, 0.0381]

# protoplanet position marker
proto_a = [2.08]
proto_e = [0.05]

legend_labels = ["Protoplanet", "Planetesimal", "Test particle"]
legend_colors = ["#0000ff", "#ff0000", "#808080"]

x_range = [1.7, 2.5]
y_range = [0.0, 0.25]

# ---------------- figure ----------------
groups = [tp_upper_left, tp_upper_mid, tp_upper_right, tp_middle_left, tp_middle_mid, tp_middle_right,
          tp_lower_left, tp_lower_mid, tp_lower_right, tp_far_left, tp_far_right]
test_a = [p[0] for g in groups for p in g]
test_e = [p[1] for g in groups for p in g]

FONT = "DejaVu Sans"
FS = 67

fig = go.Figure()
fig.add_trace(go.Scatter(
    x=test_a, y=test_e, mode="markers", name="Test particle",
    marker=dict(symbol="circle-open", size=6, color="#808080", line=dict(width=2.5, color="#808080")),
))
fig.add_trace(go.Scatter(
    x=plan_a, y=plan_e, mode="markers", name="Planetesimal",
    marker=dict(symbol="hexagon", size=24, color="#ff0000", line=dict(width=0)),
))
fig.add_trace(go.Scatter(
    x=proto_a, y=proto_e, mode="markers", name="Protoplanet",
    marker=dict(symbol="cross-thin", size=61, color="black", line=dict(width=15, color="black")),
))

axis_common = dict(
    ticks="inside", tickwidth=3, tickcolor="black",
    showline=True, linewidth=3, linecolor="black", mirror="allticks",
    showgrid=False, zeroline=False,
    tickfont=dict(family=FONT, size=FS, color="black"),
)
fig.update_xaxes(
    range=x_range, tick0=0, dtick=0.2, tickformat=".1f", ticklen=69,
    minor=dict(tick0=0, dtick=0.05, ticks="inside", ticklen=35, tickwidth=3, tickcolor="black", showgrid=False),
    ticklabelstandoff=-8,
    **axis_common,
)
fig.update_yaxes(
    range=y_range, tick0=0, dtick=0.05, tickformat=".2f", ticklen=69,
    minor=dict(tick0=0, dtick=0.01, ticks="inside", ticklen=35, tickwidth=3, tickcolor="black", showgrid=False),
    title=dict(text="eccentricity", font=dict(family=FONT, size=FS, color="black"), standoff=26),
    ticklabelstandoff=18,
    **axis_common,
)

annotations = []
for i, (lab, col) in enumerate(zip(legend_labels, legend_colors)):
    annotations.append(dict(
        text=lab, xref="paper", yref="paper", x=0.053, y=0.894 - i * 0.0515,
        xanchor="left", yanchor="middle", showarrow=False,
        font=dict(family=FONT, size=FS, color=col),
    ))
annotations.append(dict(
    text="Time: 10<sup>6</sup> yr (final)", xref="paper", yref="paper", x=0.981, y=0.896,
    xanchor="right", yanchor="middle", showarrow=False,
    font=dict(family=FONT, size=FS, color="black"),
))
# x-axis title
annotations.append(dict(
    text="semi-major axis [au]", xref="paper", yref="paper", x=0.5, y=-0.098,
    xanchor="center", yanchor="middle", showarrow=False,
    font=dict(family=FONT, size=FS, color="black"),
))

fig.update_layout(
    width=2188, height=1563,
    margin=dict(l=337, r=163, t=151, b=194, pad=0),
    paper_bgcolor="white", plot_bgcolor="white",
    showlegend=False,
    title=dict(
        text="run1: v = 3v<sub>esc</sub>, <i>θ</i>= 30°",
        x=0.5, xref="paper", xanchor="center",
        y=1 - 78 / 1563, yref="container", yanchor="middle",
        font=dict(family=FONT, size=FS, color="black"),
    ),
    annotations=annotations,
)

fig.write_html("out.html")
